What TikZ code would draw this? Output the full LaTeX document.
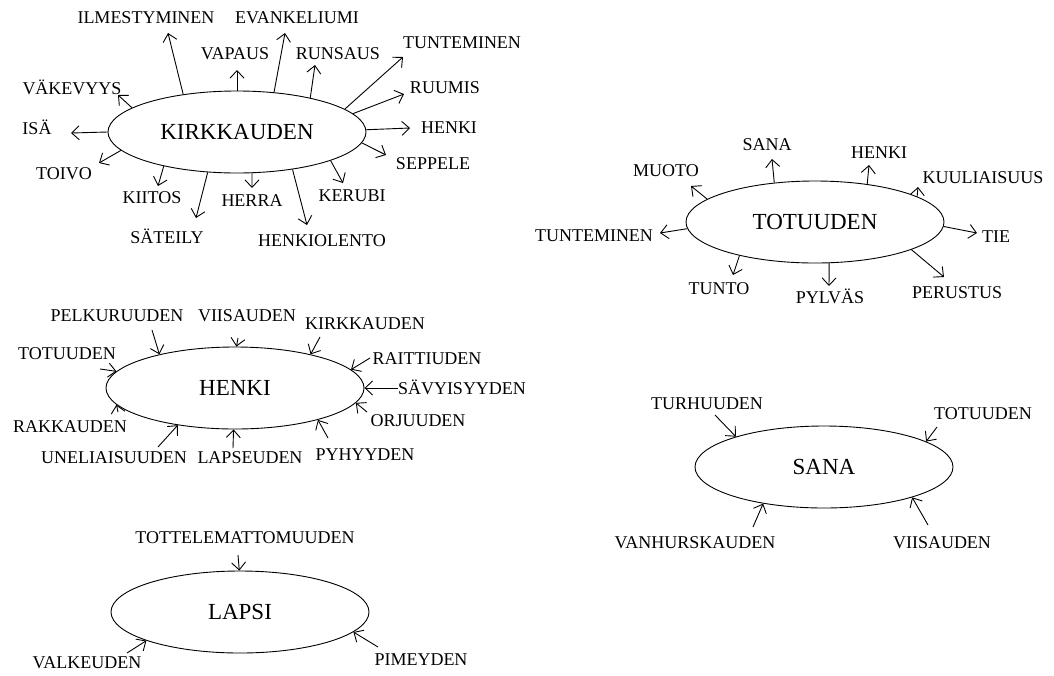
\documentclass[tikz,border=0pt]{standalone}
\usepackage{fontspec}
\setmainfont{Liberation Serif}
\usetikzlibrary{shapes.geometric,arrows.meta}
\tikzset{
  lbl/.style={inner sep=0pt, text height=12pt, text depth=0pt, font=\fontsize{18}{20}\selectfont},
  hub/.style={draw, ellipse, line width=0.9pt, minimum width=258pt, minimum height=82pt, inner sep=0pt, font=\fontsize{23}{26}\selectfont},
  arr/.style={line width=0.9pt, -{Straight Barb[length=7.5pt,width=14pt,line width=0.9pt]}},
}
\begin{document}
\begin{tikzpicture}[x=1pt,y=-1pt]
\useasboundingbox (0,0) rectangle (1054,675);
% ---------- KIRKKAUDEN ----------
\node[hub] (kirk) at (237,132) {KIRKKAUDEN};
\node[lbl] (k1) at (146,17) {ILMESTYMINEN};
\node[lbl] (k2) at (235,53) {VAPAUS};
\node[lbl] (k3) at (297,17) {EVANKELIUMI};
\node[lbl] (k4) at (338,53) {RUNSAUS};
\node[lbl] (k5) at (462,42) {TUNTEMINEN};
\node[lbl] (k6) at (445,87) {RUUMIS};
\node[lbl] (k7) at (449,127) {HENKI};
\node[lbl] (k8) at (433,163) {SEPPELE};
\node[lbl] (k9) at (352,195) {KERUBI};
\node[lbl] (k10) at (322,240) {HENKIOLENTO};
\node[lbl] (k11) at (252,200) {HERRA};
\node[lbl] (k12) at (167,237) {SÄTEILY};
\node[lbl] (k13) at (152,197) {KIITOS};
\node[lbl] (k14) at (64,173) {TOIVO};
\node[lbl] (k15) at (37,128) {ISÄ};
\node[lbl] (k16) at (72,88) {VÄKEVYYS};
\coordinate (kt1) at (168,33);
\coordinate (kt2) at (237,70);
\coordinate (kt3) at (285,33);
\coordinate (kt4) at (315,65);
\coordinate (kt5) at (403,57);
\coordinate (kt6) at (404,94);
\coordinate (kt7) at (410,128);
\coordinate (kt8) at (386,155);
\coordinate (kt9) at (343,183);
\coordinate (kt10) at (307,225);
\coordinate (kt11) at (252,188);
\coordinate (kt12) at (196,218);
\coordinate (kt13) at (158,186);
\coordinate (kt14) at (99,163);
\coordinate (kt15) at (71,133);
\coordinate (kt16) at (118,95);
\draw[arr] (kirk.145.4) -- (kt1);
\draw[arr] (kirk.90) -- (kt2);
\draw[arr] (kirk.47.2) -- (kt3);
\draw[arr] (kirk.25.6) -- (kt4);
\draw[arr] (kirk.12.5) -- (kt5);
\draw[arr] (kirk.9.3) -- (kt6);
\draw[arr] (kirk.1.8) -- (kt7);
\draw[arr] (kirk.-5) -- (kt8);
\draw[arr] (kirk.-17.7) -- (kt9);
\draw[arr] (kirk.-34) -- (kt10);
\draw[arr] (kirk.-70) -- (kt11);
\draw[arr] (kirk.-126.9) -- (kt12);
\draw[arr] (kirk.-155.9) -- (kt13);
\draw[arr] (kirk.-171.7) -- (kt14);
\draw[arr] (kirk.180) -- (kt15);
\draw[arr] (kirk.167.4) -- (kt16);
% ---------- TOTUUDEN ----------
\node[hub] (tot) at (815,222) {TOTUUDEN};
\node[lbl] (t1) at (666,170) {MUOTO};
\node[lbl] (t2) at (767,144) {SANA};
\node[lbl] (t3) at (879,152) {HENKI};
\node[lbl] (t4) at (983,177) {KUULIAISUUS};
\node[lbl] (t5) at (996,236) {TIE};
\node[lbl] (t6) at (957,292) {PERUSTUS};
\node[lbl] (t7) at (830,297) {PYLVÄS};
\node[lbl] (t8) at (719,288) {TUNTO};
\node[lbl] (t9) at (594,235) {TUNTEMINEN};
\coordinate (tt1) at (691,186);
\coordinate (tt2) at (772,159);
\coordinate (tt3) at (869,165);
\coordinate (tt4) at (918,187);
\coordinate (tt5) at (977,233);
\coordinate (tt6) at (944,277);
\coordinate (tt7) at (829,286);
\coordinate (tt8) at (733,275);
\coordinate (tt9) at (660,233);
\draw[arr] (tot.168) -- (tt1);
\draw[arr] (tot.136.4) -- (tt2);
\draw[arr] (tot.36) -- (tt3);
\draw[arr] (tot.14.7) -- (tt4);
\draw[arr] (tot.-2.7) -- (tt5);
\draw[arr] (tot.-16.5) -- (tt6);
\draw[arr] (tot.-71) -- (tt7);
\draw[arr] (tot.-156.7) -- (tt8);
\draw[arr] (tot.-177.8) -- (tt9);
% ---------- HENKI ----------
\node[hub] (henki) at (235,388) {HENKI};
\node[lbl] (h1) at (117,315) {PELKURUUDEN};
\node[lbl] (h2) at (247,315) {VIISAUDEN};
\node[lbl] (h3) at (67,353) {TOTUUDEN};
\node[lbl] (h4) at (365,323) {KIRKKAUDEN};
\node[lbl] (h5) at (427,358) {RAITTIUDEN};
\node[lbl] (h6) at (462,388) {SÄVYISYYDEN};
\node[lbl] (h7) at (418,420) {ORJUUDEN};
\node[lbl] (h8) at (365,454) {PYHYYDEN};
\node[lbl] (h9) at (250,457) {LAPSEUDEN};
\node[lbl] (h10) at (114,457) {UNELIAISUUDEN};
\node[lbl] (h11) at (70,426) {RAKKAUDEN};
\coordinate (hs1) at (152,330);
\coordinate (hs2) at (238,338);
\coordinate (hs3) at (100,369);
\coordinate (hs4) at (320,337);
\coordinate (hs5) at (370,358);
\coordinate (hs7) at (367,412);
\coordinate (hs8) at (328,438);
\coordinate (hs9) at (233,448);
\coordinate (hs10) at (158,447);
\coordinate (hs11) at (118,412);
\draw[arr] (hs1) -- (henki.156.8);
\draw[arr] (hs2) -- (henki.88);
\draw[arr] (hs3) -- (henki.172);
\draw[arr] (hs4) -- (henki.24.4);
\draw[arr] (hs5) -- (henki.9.4);
\draw[arr] (h6.west) -- (henki.0);
\draw[arr] (hs7) -- (henki.-7.2);
\draw[arr] (hs8) -- (henki.-21.8);
\draw[arr] (hs9) -- (henki.-92);
\draw[arr] (hs10) -- (henki.-147.5);
\draw[arr] (hs11) -- (henki.-172.3);
% ---------- SANA ----------
\node[hub] (sana) at (824,467) {SANA};
\node[lbl] (s1) at (707,403) {TURHUUDEN};
\node[lbl] (s2) at (983,413) {TOTUUDEN};
\node[lbl] (s3) at (695,542) {VANHURSKAUDEN};
\node[lbl] (s4) at (942,542) {VIISAUDEN};
\coordinate (ss1) at (715,415);
\coordinate (ss2) at (937,427);
\coordinate (ss3) at (753,527);
\coordinate (ss4) at (928,525);
\draw[arr] (ss1) -- (sana.161);
\draw[arr] (ss2) -- (sana.14.7);
\draw[arr] (ss3) -- (sana.-149.5);
\draw[arr] (ss4) -- (sana.-19.8);
% ---------- LAPSI ----------
\node[hub] (lapsi) at (240,612) {LAPSI};
\node[lbl] (l1) at (245,537) {TOTTELEMATTOMUUDEN};
\node[lbl] (l2) at (421,659) {PIMEYDEN};
\node[lbl] (l3) at (87,662) {VALKEUDEN};
\coordinate (ls1) at (238,555);
\coordinate (ls2) at (378,647);
\coordinate (ls3) at (127,653);
\draw[arr] (ls1) -- (lapsi.91);
\draw[arr] (ls2) -- (lapsi.-10);
\draw[arr] (ls3) -- (lapsi.-163.4);
\end{tikzpicture}
\end{document}
